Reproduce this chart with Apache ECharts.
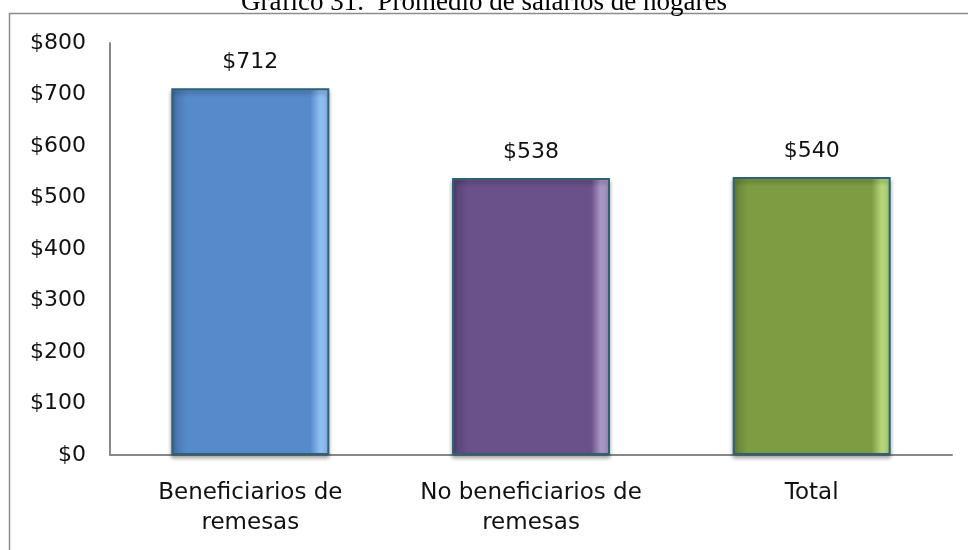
<!DOCTYPE html>
<html>
<head>
<meta charset="utf-8">
<script src="https://cdn.jsdelivr.net/npm/echarts@6/dist/echarts.min.js"></script>
<style>
  html, body { margin: 0; padding: 0; background: #fff; }
  #main { width: 968px; height: 550px; }
</style>
</head>
<body>
<div id="main"></div>
<script>
// categorías y valores
const categorias = ["Beneficiarios de\nremesas", "No beneficiarios de\nremesas", "Total"];
const salarios = [712, 538, 540];
// colores de cada barra: [oscuro, medio, claro]
const colores = [
  ["#4670A8", "#568BCB", "#8FBDF2"],
  ["#524070", "#6A5189", "#A895C4"],
  ["#647F33", "#7E9D43", "#B5D57A"],
];

const chartDom = document.getElementById("main");
const myChart = echarts.init(chartDom);

// relleno con efecto de bisel
const bisel = (c) =>
  new echarts.graphic.LinearGradient(0, 0, 1, 0, [
    { offset: 0, color: c[0] },
    { offset: 0.1, color: c[1] },
    { offset: 0.88, color: c[1] },
    { offset: 0.94, color: c[2] },
    { offset: 0.99, color: c[2] },
    { offset: 1, color: c[0] },
  ]);

let option = {
  animation: false,
  title: {
    text: "Gráfico 31.  Promedio de salarios de hogares",
    left: "center",
    top: -16,
    textStyle: {
      fontFamily: "Liberation Serif",
      fontWeight: "normal",
      fontSize: 27,
      color: "#000",
    },
  },
  graphic: [
    {
      type: "rect",
      shape: { x: 9.5, y: 13.5, width: 980, height: 560 },
      style: { fill: "none", stroke: "#8c8c8c", lineWidth: 1.5 },
      silent: true,
    },
  ],
  grid: {
    left: 110,
    right: 16,
    top: 43,
    bottom: 95,
  },
  xAxis: {
    type: "category",
    data: categorias,
    axisLine: { lineStyle: { color: "#888", width: 2 } },
    axisTick: { show: false },
    axisLabel: {
      interval: 0,
      hideOverlap: false,
      margin: 23,
      fontFamily: "DejaVu Sans",
      fontSize: 23,
      lineHeight: 30,
      color: "#111",
    },
  },
  yAxis: {
    type: "value",
    min: 0,
    max: 800,
    interval: 100,
    axisLine: { show: true, lineStyle: { color: "#888", width: 2 } },
    axisTick: { show: false },
    splitLine: { show: false },
    axisLabel: {
      margin: 24,
      fontFamily: "DejaVu Sans",
      fontSize: 22,
      color: "#111",
      formatter: "${value}",
    },
  },
  series: [
    {
      type: "bar",
      barWidth: 158,
      data: salarios.map((v, i) => ({
        value: v,
        itemStyle: {
          color: bisel(colores[i]),
          borderColor: "#2C6276",
          borderWidth: 2,
          shadowColor: "rgba(0,0,0,0.35)",
          shadowBlur: 4,
          shadowOffsetY: 3,
        },
      })),
      label: {
        show: true,
        position: "top",
        distance: 15,
        fontFamily: "DejaVu Sans",
        fontSize: 22,
        color: "#111",
        formatter: "${c}",
      },
    },
  ],
};

option && myChart.setOption(option);
</script>
</body>
</html>
